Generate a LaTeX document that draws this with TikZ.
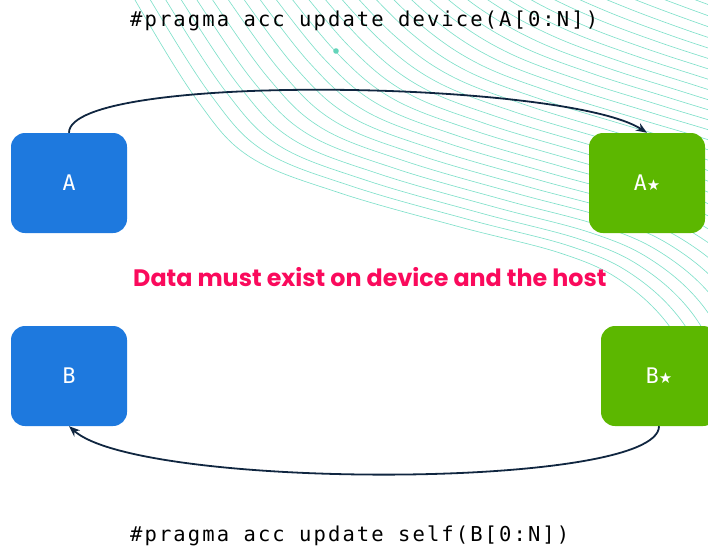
\documentclass[tikz,border=0pt]{standalone}
\usepackage{fontspec}
\usetikzlibrary{arrows.meta}
\newfontfamily\codefont{DejaVu Sans Mono}[LetterSpace=10.2]
\newfontfamily\labelfont{DejaVu Sans Mono}
\newfontfamily\symfont{DejaVu Sans}
\newfontfamily\headfont{Poppins}
\definecolor{hostblue}{RGB}{30,121,222}
\definecolor{devgreen}{RGB}{92,183,0}
\definecolor{arrownavy}{RGB}{16,38,64}
\definecolor{alertpink}{RGB}{250,10,92}
\definecolor{wavemint}{RGB}{128,224,202}
\definecolor{dotmint}{RGB}{100,212,186}
\newcommand{\devstar}{{\symfont\fontsize{15}{17}\selectfont ★}}
\tikzset{
  memblock/.style={rounded corners=14pt, minimum width=116pt, minimum height=100pt,
    inner sep=0pt, text=white, font=\labelfont\fontsize{21.5}{24}\selectfont},
  hostbox/.style={memblock, fill=hostblue},
  devbox/.style={memblock, fill=devgreen},
  transfer/.style={draw=arrownavy, line width=1.8pt, -{Stealth[length=11pt,width=8.5pt]}},
  wave/.style={draw=wavemint, line width=0.65pt},
  pragma/.style={anchor=base west, inner sep=0pt, text=black,
    font=\codefont\fontsize{20.5}{23}\selectfont},
}
\begin{document}
\begin{tikzpicture}[x=1pt, y=-1pt]
\useasboundingbox (0,0) rectangle (708,551);

% decorative fan of wavy lines, blended from the inner S-curve
% to a shallow straight line just beyond the top right corner
\begin{scope}
  \clip (0,0) rectangle (708,551);
  \foreach \i in {0,...,30}{
    \pgfmathsetmacro\s{\i/30}
    \draw[wave] plot[smooth, tension=0.6] coordinates
      {({118+402*\s},{-35-40*\s})
       ({135+425*\s},{0-60*\s})
       ({197+423*\s},{100-138*\s})
       ({250+430*\s},{157-174*\s})
       ({340+400*\s},{193-188*\s})
       ({460+340*\s},{227-201*\s})
       ({560+300*\s},{253-205*\s})
       ({620+300*\s},{280-210*\s})
       ({670+310*\s},{327-236*\s})
       ({708+332*\s},{400-287*\s})
       ({722+378*\s},{450-316*\s})};
  }
  \fill[dotmint] (336,51) circle (2.8pt);
\end{scope}

% memory blocks: host on the left, device on the right
\node[hostbox] (A) at (69,183) {A};
\node[hostbox] (B) at (69,376) {B};
\node[devbox] (Astar) at (647,183) {A\devstar};
\begin{scope}
  \clip (0,0) rectangle (708,551);
  \node[devbox] (Bstar) at (659,376) {B\devstar};
\end{scope}

% transfers
\draw[transfer] (A.north) .. controls (69,72) and (565,80) .. (Astar.north);
\draw[transfer] (Bstar.south) .. controls (659,490) and (140,490) .. (B.south);

% texts
\node[pragma] (updev) at (130,26.7) {\#pragma acc update device(A[0:N])};
\node[pragma] (upself) at (130,541.7) {\#pragma acc update self(B[0:N])};
\node[anchor=base west, inner sep=0pt, text=alertpink,
  font=\headfont\bfseries\fontsize{23.8}{27}\selectfont] (note) at (133,286)
  {Data must exist on device and the host};
\end{tikzpicture}
\end{document}
